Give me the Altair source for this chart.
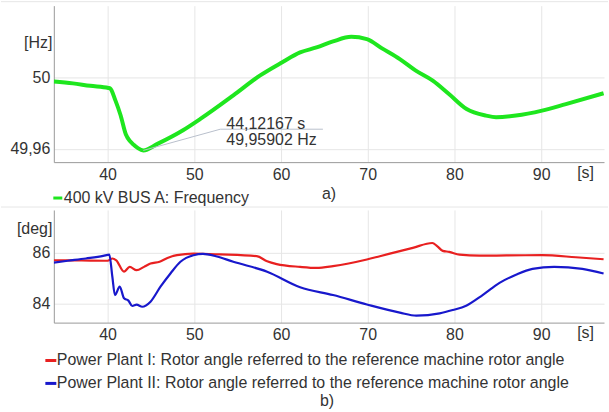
import altair as alt
import pandas as pd

# ---------------- data ----------------
freq_t = [33.8, 36.0, 38.0, 40.1, 40.3, 40.9, 41.5, 42.1, 42.6, 43.0, 43.5, 44.12167,
          45.75, 48.7, 50.7, 54.5, 57.6, 60.1, 62.2, 64.1, 66.0, 68.1, 69.9, 71.7,
          73.7, 75.5, 77.5, 79.4, 81.4, 83.65, 84.8, 87.1, 90.1, 92.85, 97.2]
freq_v = [49.9980, 49.9969, 49.9955, 49.9943, 49.9940, 49.9873, 49.9789, 49.9682, 49.9642,
          49.9623, 49.9603, 49.95902, 49.9627, 49.9704, 49.9768, 49.9901, 50.0014, 50.0087,
          50.0144, 50.0172, 50.0206, 50.0232, 50.0219, 50.0165, 50.0106, 50.0042, 49.9984,
          49.9907, 49.9824, 49.9787, 49.9778, 49.9787, 49.9815, 49.9852, 49.9913]

red_t = [33.8, 37.0, 40.0, 40.55, 41.0, 41.9, 42.55, 43.35, 44.2, 44.95, 46.0, 46.9, 48.0,
         49.9, 53.0, 57.2, 58.4, 59.5, 62.2, 64.1, 66.0, 69.9, 71.4, 73.7, 75.2, 77.45,
         78.0, 78.65, 79.4, 80.6, 82.9, 86.0, 90.1, 94.0, 97.2]
red_v = [85.69, 85.68, 85.67, 85.76, 85.69, 85.24, 85.43, 85.30, 85.43, 85.56, 85.63, 85.78,
         85.89, 85.95, 85.92, 85.85, 85.65, 85.54, 85.43, 85.39, 85.46, 85.72, 85.85, 86.05,
         86.18, 86.37, 86.25, 86.06, 86.02, 85.91, 85.87, 85.88, 85.89, 85.81, 85.73]

blue_t = [33.8, 35.4, 37.5, 39.5, 40.2, 40.55, 40.85, 41.4, 41.9, 42.4, 42.85, 43.35, 44.0,
          44.95, 46.1, 47.25, 48.4, 49.9, 51.0, 52.5, 54.5, 58.4, 62.2, 66.0, 69.9, 73.7,
          75.6, 78.3, 79.8, 81.35, 83.25, 85.2, 87.1, 89.0, 91.5, 94.75, 97.2]
blue_v = [85.60, 85.67, 85.76, 85.86, 85.91, 85.04, 84.32, 84.65, 84.19, 84.10, 83.89, 83.94,
          83.86, 84.06, 84.65, 85.17, 85.63, 85.89, 85.94, 85.85, 85.63, 85.24, 84.63, 84.32,
          83.95, 83.63, 83.51, 83.60, 83.73, 83.90, 84.32, 84.80, 85.12, 85.35, 85.43, 85.35,
          85.17]

freq_name = "400 kV BUS A: Frequency"
red_name = "Power Plant I: Rotor angle referred to the reference machine rotor angle"
blue_name = "Power Plant II: Rotor angle referred to the reference machine rotor angle"

# annotation of the minimum (leader line and text), in data units
ann_line_t = [44.12167, 53.0, 64.83]
ann_line_v = [49.95902, 49.9710, 49.9710]
ann_text_t = [53.69, 53.69]
ann_text_v = [49.9737, 49.9649]
ann_text = ["44,12167 s", "49,95902 Hz"]

x_ticks = [40, 50, 60, 70, 80, 90]
x_domain = [33.8, 97.25]
f_domain = [49.9524, 50.0408]
f_ticks = [49.96, 50.0]
a_domain = [83.235, 87.67]
a_ticks = [84, 86]

TXT = "#333333"
FONT = "Liberation Sans"
FS = 16

freq_df = pd.DataFrame({"t": freq_t, "v": freq_v, "series": freq_name})
ang_df = pd.concat([
    pd.DataFrame({"t": red_t, "v": red_v, "series": red_name}),
    pd.DataFrame({"t": blue_t, "v": blue_v, "series": blue_name}),
])
ann_line_df = pd.DataFrame({"t": ann_line_t, "v": ann_line_v, "o": [0, 1, 2]})
ann_text_df = pd.DataFrame({"t": ann_text_t, "v": ann_text_v, "label": ann_text})
one = pd.DataFrame({"k": [0]})

W = 552

def xaxis():
    return alt.Axis(values=x_ticks, title="[s]", titleX=533, titleY=10,
                    titleBaseline="middle", titleAlign="center")

label_expr = "replace(format(datum.value, '.2~f'), '.', ',')"

# ---------------- top panel ----------------
xs = alt.X("t:Q", scale=alt.Scale(domain=x_domain, nice=False, zero=False), axis=xaxis())

top_line = alt.Chart(freq_df).mark_line(strokeWidth=4, interpolate="monotone", clip=True).encode(
    x=xs,
    y=alt.Y("v:Q", scale=alt.Scale(domain=f_domain, nice=False, zero=False),
            axis=alt.Axis(values=f_ticks, labelExpr=label_expr, title="[Hz]", titleAngle=0,
                          titleAlign="right", titleBaseline="middle", titleX=-2, titleY=37)),
    color=alt.Color("series:N", scale=alt.Scale(domain=[freq_name], range=["#1ee61e"]),
                    legend=alt.Legend(orient="none", legendX=-4, legendY=185, title=None,
                                      symbolType="stroke", symbolStrokeWidth=3, symbolSize=81,
                                      labelFontSize=FS, labelColor=TXT,
                                      labelOffset={"expr": "-2"},
                                      labelLimit=0, padding=0)),
)

deco_rules = alt.Chart(one).mark_rule(color="#e6e6e6", strokeWidth=1).encode(
    x=alt.value(-53), x2=alt.value(556), y=alt.value(-4)
)
deco_rules2 = alt.Chart(one).mark_rule(color="#e6e6e6", strokeWidth=1).encode(
    x=alt.value(-53), x2=alt.value(556), y=alt.value(202)
)

ann_line = alt.Chart(ann_line_df).mark_line(color="#b9c0cc", strokeWidth=1).encode(
    x="t:Q", y="v:Q", order="o:Q"
)
ann_txt = alt.Chart(ann_text_df).mark_text(align="left", baseline="middle", fontSize=FS,
                                           color=TXT).encode(x="t:Q", y="v:Q", text="label:N")
a_lbl = alt.Chart(one).mark_text(text="a)", align="left", baseline="middle", fontSize=FS,
                                 color=TXT).encode(x=alt.value(269), y=alt.value(189))

top = alt.layer(deco_rules, deco_rules2, top_line, ann_line, ann_txt, a_lbl).properties(
    width=W, height=157)

# ---------------- bottom panel ----------------
bot_line = alt.Chart(ang_df).mark_line(strokeWidth=2.2, interpolate="monotone", clip=True).encode(
    x=alt.X("t:Q", scale=alt.Scale(domain=x_domain, nice=False, zero=False), axis=xaxis()),
    y=alt.Y("v:Q", scale=alt.Scale(domain=a_domain, nice=False, zero=False),
            axis=alt.Axis(values=a_ticks, format="d", title="[deg]", titleAngle=0,
                          titleAlign="right", titleBaseline="middle", titleX=-2, titleY=19)),
    color=alt.Color("series:N", scale=alt.Scale(domain=[red_name, blue_name],
                                                range=["#e82020", "#1818cc"]),
                    legend=alt.Legend(orient="none", legendX=-11, legendY=143, title=None,
                                      symbolType="stroke", symbolStrokeWidth=3, symbolSize=121,
                                      labelFontSize=FS, labelColor=TXT,
                                      labelOffset={"expr": "-2"},
                                      labelLimit=0, rowPadding=7, padding=0)),
)
b_lbl = alt.Chart(one).mark_text(text="b)", align="left", baseline="middle", fontSize=FS,
                                 color=TXT).encode(x=alt.value(267), y=alt.value(192))

bottom = alt.layer(bot_line, b_lbl).properties(width=W, height=113)

chart = alt.vconcat(top, bottom, spacing=48, bounds="flush").resolve_scale(
    color="independent").resolve_legend(color="independent").properties(
    padding={"left": 0, "top": 0, "right": 0, "bottom": 0}
).configure(font=FONT, background="white").configure_view(stroke=None).configure_axis(
    labelFontSize=FS, labelColor=TXT, titleFontSize=FS, titleColor=TXT,
    titleFontWeight="normal", gridColor="#e6e6e6", domainColor="#9a9a9a",
    ticks=False, labelPadding=4, labelFont=FONT, titleFont=FONT
).configure_legend(labelFont=FONT)

chart.save("out.html", embed_options={"renderer": "svg", "actions": False})
